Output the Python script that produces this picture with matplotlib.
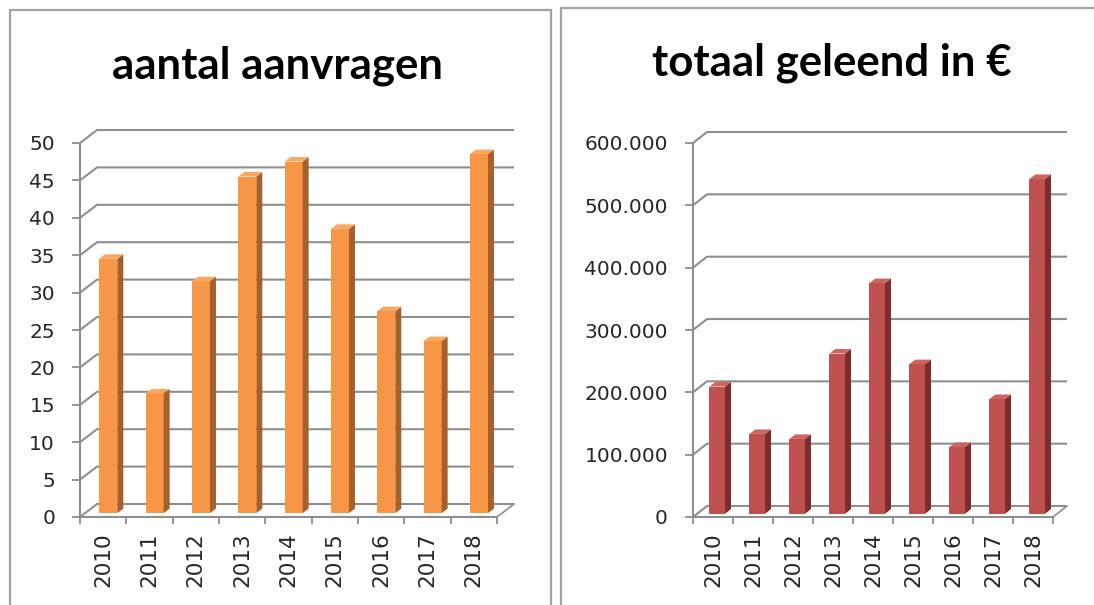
import numpy as np
import matplotlib.pyplot as plt
from matplotlib.patches import Polygon, Rectangle
from matplotlib.ticker import FuncFormatter

# data
jaren = ['2010', '2011', '2012', '2013', '2014', '2015', '2016', '2017', '2018']
aanvragen = [34, 16, 31, 45, 47, 38, 27, 23, 48]
geleend = [204000, 128000, 120000, 257000, 370000, 240000, 107000, 184000, 537000]

W, H = 1094, 605
fig = plt.figure(figsize=(W / 100, H / 100), dpi=100)
fig.patch.set_facecolor('white')

GRID = '#8e8e8e'
TXT = '#262626'


def panel_box(x0, x1, top):
    # grey frame around each chart (bottom runs off the picture)
    fig.add_artist(Rectangle((x0 / W, -0.05), (x1 - x0) / W, (H - top) / H + 0.05,
                             transform=fig.transFigure, fill=False,
                             ec='#a3a3a3', lw=1.6))


def draw_panel(rect, values, ymax, ystep, face, side, top, depth_px, fmt=None):
    ax = fig.add_axes([rect[0] / W, (H - rect[3]) / H,
                       (rect[1] - rect[0]) / W, (rect[3] - rect[2]) / H])
    n = len(values)
    ax.set_xlim(0, n)
    ax.set_ylim(0, ymax)
    # pixels per data unit, to turn pixel depths into data units
    pxx = (rect[1] - rect[0]) / n
    pxy = (rect[3] - rect[2]) / ymax
    dx, dy = depth_px[0] / pxx, depth_px[1] / pxy

    # back wall gridlines with the diagonal from the front axis
    for v in np.arange(0, ymax + 1, ystep):
        ax.plot([0, dx, n + dx], [v, v + dy, v + dy], color=GRID, lw=1.5,
                zorder=1, clip_on=False, solid_capstyle='butt')
    ax.plot([n, n + dx], [0, dy], color=GRID, lw=1.2, zorder=1, clip_on=False)

    # 3d-looking bars
    x = np.arange(n) + 0.5
    bw = 0.39
    fx, fy = 0.3 * dx, 0.3 * dy
    sx, sy = 6 / pxx, 4.5 / pxy
    ax.bar(x + fx, values, width=bw, bottom=fy, color=face, zorder=3,
           linewidth=0)
    for xi, v in zip(x, values):
        l, r = xi + fx - bw / 2, xi + fx + bw / 2
        b, t = fy, fy + v
        ax.add_patch(Polygon([(r, b), (r + sx, b + sy), (r + sx, t + sy), (r, t)],
                             closed=True, fc=side, ec='none', zorder=3,
                             clip_on=False))
        ax.add_patch(Polygon([(l, t), (r, t), (r + sx, t + sy), (l + sx, t + sy)],
                             closed=True, fc=top, ec='none', zorder=3,
                             clip_on=False))

    for s in ['top', 'right']:
        ax.spines[s].set_visible(False)
    for s in ['left', 'bottom']:
        ax.spines[s].set_color(GRID)
        ax.spines[s].set_linewidth(1.5)
        ax.spines[s].set_zorder(4)

    ax.set_yticks(np.arange(0, ymax + 1, ystep))
    if fmt:
        ax.yaxis.set_major_formatter(FuncFormatter(fmt))
    ax.tick_params(axis='y', direction='out', length=6, width=1.3,
                   color=GRID, labelcolor=TXT, labelsize=14.5, pad=12)
    ax.set_xticks(x)
    ax.set_xticklabels(jaren, rotation=90)
    ax.set_xticks(np.arange(n + 1), minor=True)
    ax.tick_params(axis='x', which='major', length=0, labelsize=15.5,
                   labelcolor=TXT, pad=11)
    ax.tick_params(axis='x', which='minor', direction='out', length=5,
                   width=1.3, color=GRID)
    ax.set_facecolor('none')
    return ax


panel_box(10, 551, 10)
panel_box(561, 1100, 8)

draw_panel((80, 497, 143, 517), aanvragen, 50, 5,
           '#f79646', '#a8602a', '#f9a864', (17, 13))
draw_panel((693, 1053, 143, 517), geleend, 600000, 100000,
           '#c0504d', '#7b2e2c', '#cd6461', (14, 11),
           fmt=lambda v, p: f"{int(v):,}".replace(',', '.'))

fig.text(278 / W, 1 - 66 / H, 'aantal aanvragen', ha='center', va='center',
         fontsize=31.5, fontweight='bold', family=['Lato', 'DejaVu Sans'],
         color='black')
fig.text(832 / W, 1 - 63 / H, 'totaal geleend in €', ha='center', va='center',
         fontsize=31.5, fontweight='bold', family=['Lato', 'DejaVu Sans'],
         color='black')

fig.savefig('out.png', dpi=100, facecolor='white')
